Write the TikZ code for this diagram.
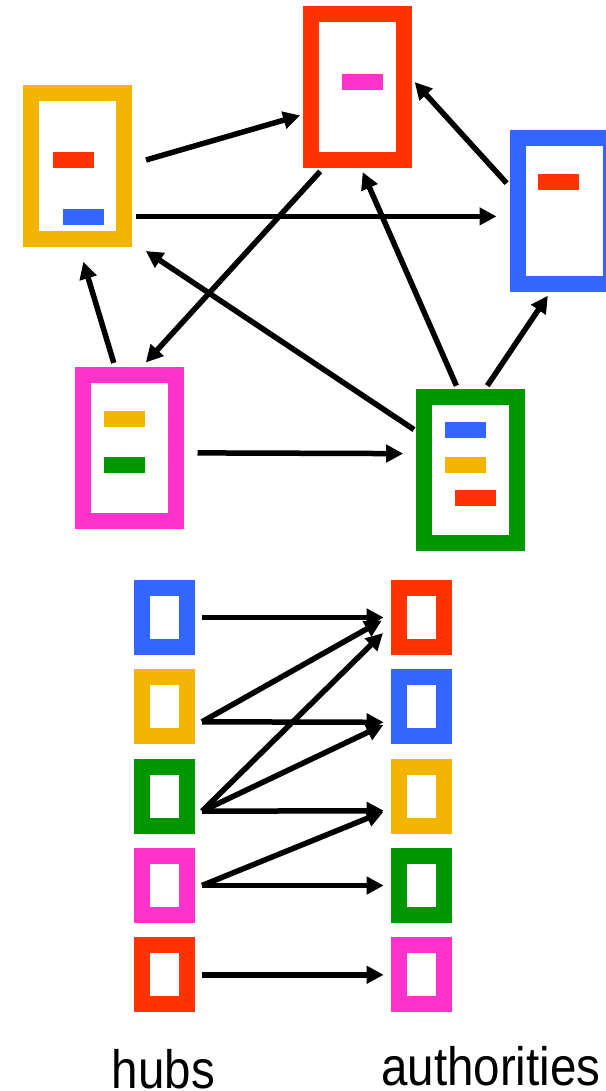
\documentclass[tikz,border=0pt]{standalone}
\usepackage{fontspec}
\setmainfont{Liberation Sans}
\usetikzlibrary{arrows.meta}
\definecolor{cred}{RGB}{255,51,0}
\definecolor{cyel}{RGB}{243,181,0}
\definecolor{cblue}{RGB}{51,102,255}
\definecolor{cgreen}{RGB}{0,150,0}
\definecolor{cpink}{RGB}{255,51,204}
\begin{document}
\begin{tikzpicture}[x=1pt,y=-1pt,
 page/.style={draw=#1, line width=16pt, minimum width=93pt, minimum height=146pt, inner sep=0pt, fill=white},
 small/.style={draw=#1, line width=16pt, minimum width=45pt, minimum height=59pt, inner sep=0pt, fill=white},
 bar/.style={fill=#1, minimum width=41pt, minimum height=16pt, inner sep=0pt},
 arr/.style={line width=5.5pt, -{Triangle[length=17pt,width=17pt]}},
 lbl/.style={font=\fontsize{54}{60}\selectfont, inner sep=0pt}
]
\useasboundingbox (0,0) rectangle (605,1091);
% top web pages
\node[page=cyel] (Y) at (77.5,166) {};
\node[page=cred] (R) at (357.5,87) {};
\node[page=cblue] (B) at (564.5,211) {};
\node[page=cpink] (P) at (129.5,447.5) {};
\node[page=cgreen] (G) at (470.5,470) {};
% link bars
\node[bar=cred] (Yr) at (73,160.3) {};
\node[bar=cblue] (Yb) at (83.5,216.6) {};
\node[bar=cpink] (Rp) at (362.2,81.6) {};
\node[bar=cred] (Br) at (558.5,182.5) {};
\node[bar=cyel] (Py) at (124.5,419.2) {};
\node[bar=cgreen] (Pg) at (124.5,464.5) {};
\node[bar=cblue] (Gb) at (465.7,430.3) {};
\node[bar=cyel] (Gy) at (465.7,464.5) {};
\node[bar=cred] (Gr) at (475.7,497.8) {};
% top links
\draw[arr] ([shift={(68.5,-6)}]Y.center) -- ([shift={(-57.3,28.4)}]R.center);
\draw[arr] ([shift={(58.3,50.4)}]Y.center) -- ([shift={(-68,5.4)}]B.center);
\draw[arr] ([shift={(-57.9,-27.8)}]B.center) -- ([shift={(57.2,-4.9)}]R.center);
\draw[arr] ([shift={(-37.3,84.4)}]R.center) -- ([shift={(16.3,-85)}]P.center);
\draw[arr] ([shift={(-14.1,-84.3)}]G.center) -- ([shift={(5.2,85.1)}]R.center);
\draw[arr] ([shift={(16.8,-84.3)}]G.center) -- ([shift={(-16.7,84.7)}]B.center);
\draw[arr] ([shift={(-56.5,-40.4)}]G.center) -- ([shift={(68.3,85)}]Y.center);
\draw[arr] ([shift={(-15.7,-84.6)}]P.center) -- ([shift={(5.8,95.8)}]Y.center);
\draw[arr] ([shift={(68,5.4)}]P.center) -- ([shift={(-67.3,-16.4)}]G.center);
% hubs
\node[small=cblue] (h1) at (164.5,617.5) {};
\node[small=cyel] (h2) at (164.5,706.8) {};
\node[small=cgreen] (h3) at (164.5,796.2) {};
\node[small=cpink] (h4) at (164.5,885.5) {};
\node[small=cred] (h5) at (164.5,974.8) {};
% authorities
\node[small=cred] (a1) at (421.5,617.5) {};
\node[small=cblue] (a2) at (421.5,706.8) {};
\node[small=cyel] (a3) at (421.5,796.2) {};
\node[small=cgreen] (a4) at (421.5,885.5) {};
\node[small=cpink] (a5) at (421.5,974.8) {};
% bipartite links
\draw[arr] ([shift={(37.5,0)}]h1.center) -- ([shift={(-37.8,0)}]a1.center);
\draw[arr] ([shift={(37.5,15)}]h2.center) -- ([shift={(-39.8,3)}]a1.center);
\draw[arr] ([shift={(37.5,15)}]h2.center) -- ([shift={(-37.8,15.5)}]a2.center);
\draw[arr] ([shift={(37.5,15)}]h3.center) -- ([shift={(-38.5,15.5)}]a1.center);
\draw[arr] ([shift={(37.5,15)}]h3.center) -- ([shift={(-38,18)}]a2.center);
\draw[arr] ([shift={(37.5,15)}]h3.center) -- ([shift={(-37.8,14.5)}]a3.center);
\draw[arr] ([shift={(37.5,0)}]h4.center) -- ([shift={(-38,15.5)}]a3.center);
\draw[arr] ([shift={(37.5,0)}]h4.center) -- ([shift={(-37.8,0)}]a4.center);
\draw[arr] ([shift={(37.5,0)}]h5.center) -- ([shift={(-37.8,0)}]a5.center);
% labels
\node[lbl, anchor=base] (hubs) at (163.5,1088) {\scalebox{0.88}[1]{hubs}};
\node[lbl, anchor=base west] (auth) at (381,1085) {\scalebox{0.88}[1]{authorities}};
\end{tikzpicture}
\end{document}
